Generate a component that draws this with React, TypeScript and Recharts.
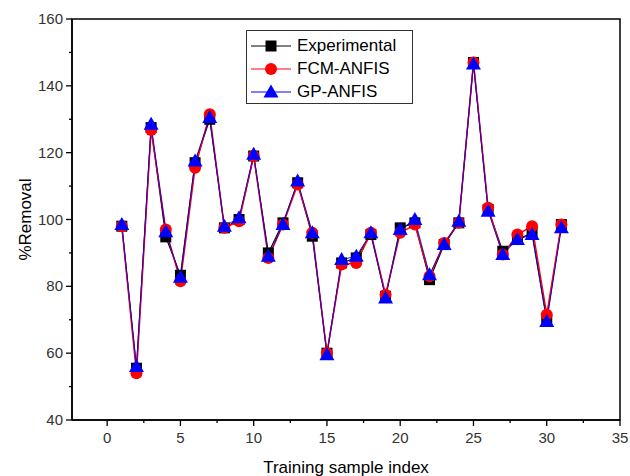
import React from "react";
import {
  Legend,
  Line,
  LineChart,
  ReferenceArea,
  XAxis,
  YAxis,
} from "recharts";

const sampleIndex = [
  1, 2, 3, 4, 5, 6, 7, 8, 9, 10, 11, 12, 13, 14, 15, 16, 17, 18, 19, 20, 21,
  22, 23, 24, 25, 26, 27, 28, 29, 30, 31,
];
const experimental = [
  98, 55.5, 127.5, 94.8, 83.3, 117, 130, 97.5, 100, 119, 90, 99, 111, 95, 60,
  87, 88.5, 95.5, 77, 97.5, 99, 82, 92.5, 99, 147, 103, 90.5, 94, 96, 70, 98.5,
];
const fcmAnfis = [
  98, 54, 126.8, 97, 81.5, 115.5, 131.5, 97.5, 99.5, 119, 88.5, 98.5, 110.5,
  96, 60, 86.5, 87, 96, 77.5, 96, 98.5, 83, 93, 99, 147, 103.5, 89.5, 95.5, 98,
  71.5, 98.5,
];
const gpAnfis = [
  98.5, 56, 128.5, 96.3, 82.7, 117.5, 130.5, 98, 100.5, 119.5, 89, 98.5, 111.5,
  96, 59.5, 88, 89, 96, 76.5, 97, 100, 83.5, 92.5, 99.5, 146.5, 102.5, 89.5,
  94, 95.5, 69.5, 97.5,
];

const xTicks = [0, 2.5, 5, 7.5, 10, 12.5, 15, 17.5, 20, 22.5, 25, 27.5, 30, 32.5, 35];
const yTicks = [40, 50, 60, 70, 80, 90, 100, 110, 120, 130, 140, 150, 160];

const data = sampleIndex.map((idx, i) => ({
  idx,
  exp: experimental[i],
  fcm: fcmAnfis[i],
  gp: gpAnfis[i],
}));

const font = "'Liberation Sans', Arial, sans-serif";

const XTick = (props: any) => {
  const { x, y, payload } = props;
  const major = payload.value % 5 === 0;
  return (
    <g>
      <line x1={x} x2={x} y1={y} y2={y + (major ? 6 : 3)} stroke="#000" strokeWidth={1.3} />
      {major && (
        <text x={x} y={y + 23} textAnchor="middle" fontSize={15} fill="#333" fontFamily={font}>
          {payload.value}
        </text>
      )}
    </g>
  );
};

const YTick = (props: any) => {
  const { x, y, payload } = props;
  const major = payload.value % 20 === 0;
  return (
    <g>
      <line x1={x} x2={x - (major ? 6 : 3)} y1={y} y2={y} stroke="#000" strokeWidth={1.3} />
      {major && (
        <text x={x - 9} y={y + 5} textAnchor="end" fontSize={15} fill="#333" fontFamily={font}>
          {payload.value}
        </text>
      )}
    </g>
  );
};

const Square = (p: any) => (
  <rect key={`s${p.index}`} x={p.cx - 5.5} y={p.cy - 5.5} width={11} height={11} fill="#000" />
);
const Circle = (p: any) => (
  <circle key={`c${p.index}`} cx={p.cx} cy={p.cy} r={6} fill="#ff0000" />
);
const Triangle = (p: any) => (
  <polygon
    key={`t${p.index}`}
    points={`${p.cx},${p.cy - 7.5} ${p.cx - 7.5},${p.cy + 5.5} ${p.cx + 7.5},${p.cy + 5.5}`}
    fill="#0000ff"
  />
);

const legendItems = [
  { name: "Experimental", color: "#000", Marker: Square },
  { name: "FCM-ANFIS", color: "#ff0000", Marker: Circle },
  { name: "GP-ANFIS", color: "#0000ff", Marker: Triangle },
];

const LegendBox = () => (
  <div
    style={{
      border: "1px solid #333",
      background: "#fff",
      padding: "3px 4px",
      width: 167,
      height: 74,
      boxSizing: "border-box",
      fontFamily: font,
    }}
  >
    {legendItems.map(({ name, color, Marker }) => (
      <div key={name} style={{ display: "flex", alignItems: "center", height: 23 }}>
        <svg width={40} height={20} style={{ marginRight: 6 }}>
          <line x1={0} x2={40} y1={10} y2={10} stroke={color} strokeWidth={1} />
          <Marker cx={20} cy={10} index={0} />
        </svg>
        <span style={{ fontSize: 17, color: "#000" }}>{name}</span>
      </div>
    ))}
  </div>
);

export default function App() {
  return (
    <div style={{ position: "absolute", left: 0, top: 0, background: "#fff" }}>
      <LineChart
        width={630}
        height={476}
        data={data}
        margin={{ top: 19, right: 10, left: 0, bottom: 0 }}
      >
        <XAxis
          dataKey="idx"
          type="number"
          domain={[-2.4, 35]}
          ticks={xTicks}
          interval={0}
          allowDataOverflow
          height={56}
          tickSize={0}
          tickMargin={0}
          tickLine={false}
          tick={<XTick />}
          axisLine={{ stroke: "#000", strokeWidth: 1.5 }}
          label={{
            value: "Training sample index",
            position: "insideBottom",
            offset: 3,
            style: { fontSize: 17, fill: "#000", fontFamily: font },
          }}
        />
        <YAxis
          type="number"
          domain={[40, 160]}
          ticks={yTicks}
          interval={0}
          allowDataOverflow
          width={72}
          tickSize={0}
          tickMargin={0}
          tickLine={false}
          tick={<YTick />}
          axisLine={{ stroke: "#000", strokeWidth: 1.5 }}
          label={{
            content: (p: any) => {
              const vb = p.viewBox;
              const cy = vb.y + vb.height / 2;
              return (
                <text
                  x={25}
                  y={cy}
                  transform={`rotate(-90 25 ${cy})`}
                  textAnchor="middle"
                  dominantBaseline="central"
                  fontSize={17}
                  fill="#000"
                  fontFamily={font}
                >
                  %Removal
                </text>
              );
            },
          }}
        />
        <ReferenceArea
          x1={-2.4}
          x2={35}
          y1={40}
          y2={160}
          fill="none"
          stroke="#000"
          strokeWidth={1.5}
          fillOpacity={0}
        />
        <Line
          dataKey="exp"
          name="Experimental"
          stroke="#000"
          strokeWidth={1.2}
          dot={Square}
          activeDot={false}
          isAnimationActive={false}
        />
        <Line
          dataKey="fcm"
          name="FCM-ANFIS"
          stroke="#ff0000"
          strokeWidth={1.5}
          dot={Circle}
          activeDot={false}
          isAnimationActive={false}
        />
        <Line
          dataKey="gp"
          name="GP-ANFIS"
          stroke="#0000ff"
          strokeWidth={1}
          strokeOpacity={0.85}
          dot={Triangle}
          activeDot={false}
          isAnimationActive={false}
        />
        <Legend
          layout="horizontal"
          verticalAlign="middle"
          align="center"
          content={<LegendBox />}
          wrapperStyle={{ position: "absolute", left: 246, top: 30, width: 167, bottom: "auto" }}
        />
      </LineChart>
    </div>
  );
}
